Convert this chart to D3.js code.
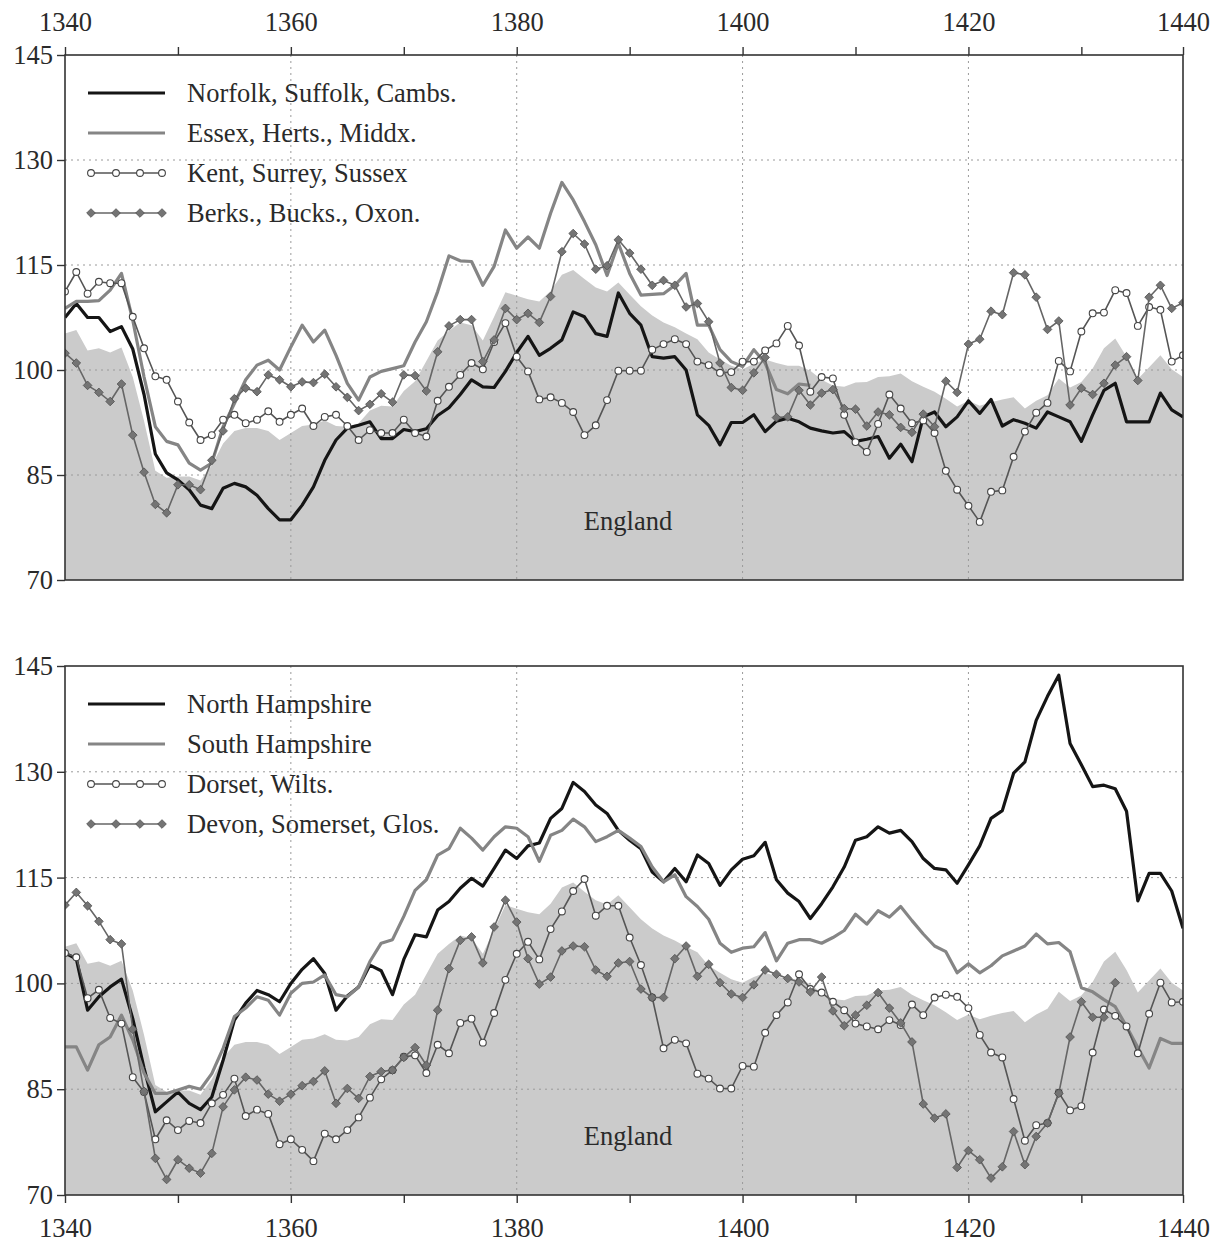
<!DOCTYPE html>
<html><head><meta charset="utf-8">
<script src="https://cdn.jsdelivr.net/npm/d3@7/dist/d3.min.js"></script>
<style>
html,body{margin:0;padding:0;background:#fff;}
svg{display:block;}
text{font-family:"Liberation Serif","Times New Roman",serif;fill:#2a2a2a;}
</style></head>
<body>
<svg id="chart" width="1215" height="1248"></svg>
<script>
// ---------- data (annual, starting 1340) ----------
const startYear = 1340;
const xTicks = [1340, 1350, 1360, 1370, 1380, 1390, 1400, 1410, 1420, 1430, 1440];
const xTickLabels = [1340, 1360, 1380, 1400, 1420, 1440];
const yTicks = [70, 85, 100, 115, 130, 145];
const gridX = [1360, 1380, 1400, 1420];
const gridY = [85, 100, 115, 130];

const england = [105.2,105.7,102.8,103.1,102.5,103.2,99.0,92.7,85.6,84.6,84.8,84.8,84.2,86.4,89.5,91.3,91.7,91.7,91.3,90.0,
  91.0,92.0,92.2,92.8,92.0,91.9,92.4,94.2,94.9,94.8,97.0,98.4,101.3,104.2,105.6,106.8,106.4,104.2,107.6,111.1,
  110.6,110.1,109.8,111.3,113.6,114.3,113.0,111.8,111.2,112.5,110.8,109.1,107.8,106.8,106.1,105.2,104.4,102.5,101.5,100.6,
  100.1,100.9,101.5,101.0,100.6,100.6,99.9,98.6,97.8,97.6,98.2,98.3,99.0,99.1,99.5,98.4,97.6,96.9,95.9,94.8,
  95.6,94.9,95.4,95.8,96.1,94.5,95.6,96.4,98.8,97.5,98.3,100.2,103.1,104.5,101.9,98.7,100.4,102.1,100.1,99.0];

// top panel
const norfolk = [107.5,109.5,107.5,107.5,105.5,106.2,103.0,96.5,88.0,85.3,84.3,82.9,80.7,80.2,83.1,83.8,83.3,82.1,80.2,78.6,
  78.6,80.7,83.3,87.1,90.0,91.7,92.1,92.6,90.2,90.2,91.5,91.2,91.6,93.5,94.6,96.5,98.6,97.6,97.5,99.8,
  102.5,104.8,102.1,103.1,104.3,108.3,107.6,105.2,104.8,111.0,108.1,106.4,101.9,101.7,101.9,100.0,93.6,92.1,89.3,92.5,
  92.5,93.6,91.2,92.7,93.1,92.6,91.7,91.3,91.0,91.2,89.8,90.1,90.5,87.4,89.4,86.9,93.3,94.0,91.9,93.3,
  95.6,93.8,95.8,92.0,92.9,92.4,91.7,94.0,93.3,92.6,89.8,93.6,97.1,98.1,92.6,92.6,92.6,96.7,94.3,93.3];
const essex = [108.8,109.8,109.8,109.9,111.4,113.8,107.1,99.0,91.9,89.8,89.3,86.7,85.7,86.7,91.9,95.2,98.6,100.7,101.4,100.0,
  103.3,106.4,104.0,105.7,102.1,98.1,95.7,99.0,99.8,100.2,100.6,104.0,106.9,111.2,116.3,115.6,115.5,112.1,114.8,120.0,
  117.4,119.0,117.4,122.4,126.8,124.3,121.2,117.9,113.5,118.1,113.8,110.7,110.8,110.9,112.1,113.8,106.4,106.4,102.9,101.2,
  100.5,102.9,101.0,97.2,96.6,98.0,97.8];
const kent = [111.2,114.0,110.9,112.6,112.4,112.4,107.6,103.1,99.1,98.6,95.5,92.5,90.0,90.7,92.9,93.6,92.4,92.9,94.1,92.6,
  93.6,94.5,92.0,93.3,93.6,92.0,90.0,91.4,91.0,91.0,92.9,91.0,90.5,95.6,97.6,99.3,101.0,100.1,104.0,106.7,
  101.9,99.8,95.8,96.1,95.3,94.0,90.7,92.1,95.7,99.9,99.9,99.9,102.9,103.7,104.4,103.7,101.2,100.7,99.6,99.7,
  101.2,101.2,102.8,103.8,106.3,103.5,96.9,99.0,98.8,93.6,89.7,88.3,92.3,96.5,94.5,92.4,92.8,91.0,85.6,82.9,
  80.6,78.3,82.6,82.8,87.6,91.2,93.9,95.3,101.3,99.8,105.5,108.1,108.2,111.4,111.0,106.3,109.0,108.6,101.2,102.1];
const berks = [102.4,101.0,97.8,96.8,95.5,98.0,90.7,85.4,80.8,79.6,83.6,83.6,82.9,87.1,91.3,95.9,97.4,96.9,99.3,98.6,
  97.6,98.3,98.2,99.4,97.6,96.1,94.2,95.1,96.6,95.4,99.3,99.2,97.0,102.6,106.3,107.2,107.2,101.2,104.3,108.8,
  107.2,108.1,106.8,110.5,116.9,119.5,118.0,114.4,114.9,118.6,116.7,114.4,112.1,112.8,112.1,109.0,109.5,106.9,101.0,97.5,
  97.1,99.6,101.8,93.2,93.3,97.1,95.0,96.7,97.2,94.5,94.4,92.0,94.0,93.6,91.8,91.1,93.7,91.9,98.4,96.8,
  103.7,104.4,108.4,107.9,113.9,113.6,110.4,105.8,107.0,95.0,97.4,96.5,98.1,100.7,101.9,98.5,110.4,112.1,108.8,109.6];

// bottom panel
const northHants = [104.3,103.5,96.2,98.1,99.5,100.6,95.0,88.0,81.8,83.2,84.6,83.0,82.1,83.9,89.1,94.8,97.2,99.0,98.4,97.4,
  100.0,102.0,103.5,101.4,96.2,98.2,99.5,102.6,101.8,98.4,103.4,106.9,106.6,110.4,111.6,113.5,114.9,113.8,116.3,118.9,
  117.7,119.5,119.9,123.4,124.8,128.5,127.2,125.3,124.1,121.7,120.3,119.1,115.8,114.4,116.3,114.4,118.2,117.0,113.9,116.1,
  117.6,118.1,120.0,114.7,112.8,111.6,109.2,111.3,113.7,116.5,120.3,120.8,122.2,121.3,121.7,120.1,117.7,116.3,116.1,114.2,
  116.8,119.5,123.4,124.5,129.8,131.4,137.3,140.7,143.7,134.0,131.0,127.9,128.1,127.6,124.4,111.7,115.6,115.6,113.1,107.8];
const southHants = [91.0,91.0,87.7,91.3,92.4,95.5,92.0,87.3,84.4,84.4,84.9,85.4,85.0,87.2,90.8,95.3,96.5,98.1,97.6,95.5,
  98.6,100.0,100.2,101.2,98.4,98.1,99.5,103.1,105.7,106.2,109.5,113.2,114.7,118.2,119.1,122.0,120.6,118.9,120.8,122.2,
  122.0,120.8,117.3,121.0,121.7,123.3,122.2,120.1,120.8,121.7,120.6,119.4,116.5,114.4,115.4,112.3,110.9,109.1,105.7,104.4,
  105.0,105.2,107.2,103.2,105.7,106.2,106.2,105.7,106.5,107.5,109.8,108.4,110.3,109.4,110.9,108.9,107.0,105.3,104.5,101.5,
  102.8,101.5,102.5,103.9,104.6,105.3,107.0,105.6,105.8,104.5,99.4,98.8,97.7,96.7,93.9,90.9,88.0,92.2,91.5,91.5];
const dorset = [104.3,103.7,97.9,99.1,95.1,94.3,86.7,84.6,77.9,80.6,79.2,80.5,80.2,83.0,84.2,86.5,81.2,82.1,81.5,77.2,
  77.9,76.4,74.8,78.7,77.9,79.2,81.0,83.8,86.4,87.7,89.6,89.8,87.3,91.3,90.1,94.4,95.0,91.6,95.8,100.5,
  104.2,105.9,103.4,107.7,110.2,113.1,114.8,109.6,111.0,111.0,106.5,102.6,98.0,90.8,92.0,91.5,87.2,86.5,85.1,85.1,
  88.3,88.2,93.0,95.5,97.3,101.3,99.2,98.7,97.4,96.2,94.3,93.9,93.5,94.8,94.1,97.0,95.5,98.0,98.4,98.1,
  96.5,92.7,90.2,89.5,83.6,77.7,79.9,80.2,84.5,82.0,82.6,90.2,96.3,95.4,93.9,90.1,95.7,100.1,97.3,97.4];
const devon = [111.1,112.9,111.0,108.8,106.2,105.6,93.5,84.7,75.2,72.2,75.0,73.8,73.1,75.9,82.5,84.9,86.7,86.3,84.3,83.3,
  84.3,85.5,86.1,87.6,83.0,85.1,83.7,86.8,87.5,87.7,89.5,90.9,88.4,96.2,102.1,106.1,106.6,102.9,108.0,111.8,
  108.7,103.5,99.9,100.9,104.6,105.3,105.2,101.9,101.0,102.9,103.1,99.2,98.0,98.0,103.5,105.3,101.0,102.7,100.1,98.5,
  98.0,99.8,101.9,101.3,100.7,100.2,98.8,100.9,96.1,94.0,95.5,96.9,98.7,96.5,94.4,91.7,82.9,80.9,81.5,73.9,
  76.3,75.0,72.4,74.0,79.0,74.3,78.3,80.2,84.4,92.4,97.4,95.2,95.2,100.1];

const topNames = ["Norfolk, Suffolk, Cambs.", "Essex, Herts., Middx.", "Kent, Surrey, Sussex", "Berks., Bucks., Oxon."];
const bottomNames = ["North Hampshire", "South Hampshire", "Dorset, Wilts.", "Devon, Somerset, Glos."];
const areaLabel = "England";

// ---------- drawing ----------
const svg = d3.select("#chart");
const X0 = 65, X1 = 1183;
const FS = 26.5;
const x = d3.scaleLinear().domain([1340, 1439]).range([X0, X1]).clamp(true);

const styles = [
  {stroke: "#151515", width: 3.2, marker: null},
  {stroke: "#858585", width: 3.2, marker: null},
  {stroke: "#555", width: 1.6, marker: "circle"},
  {stroke: "#666", width: 1.6, marker: "diamond"}
];

function toPts(arr) { return arr.map((v, i) => ({year: startYear + i, v})); }

function panel(id, top, bottom, series, names, showTopAxis) {
  const y = d3.scaleLinear().domain([70, 145]).range([bottom, top]);
  const g = svg.append("g");
  const clipId = "clip" + id;
  g.append("clipPath").attr("id", clipId).append("rect")
    .attr("x", X0).attr("y", top).attr("width", X1 - X0).attr("height", bottom - top);

  const area = d3.area().x(d => x(d.year)).y0(bottom).y1(d => y(d.v));
  g.append("path").datum(toPts(england)).attr("d", area)
    .attr("fill", "#cbcbcb").attr("clip-path", `url(#${clipId})`);

  g.selectAll(".gx").data(gridX).join("line")
    .attr("x1", d => x(d)).attr("x2", d => x(d)).attr("y1", top).attr("y2", bottom)
    .attr("stroke", "#9a9a9a").attr("stroke-width", 1).attr("stroke-dasharray", "2,4");
  g.selectAll(".gy").data(gridY).join("line")
    .attr("x1", X0).attr("x2", X1).attr("y1", d => y(d)).attr("y2", d => y(d))
    .attr("stroke", "#9a9a9a").attr("stroke-width", 1).attr("stroke-dasharray", "2,4");

  g.append("text").attr("x", 628).attr("y", bottom - 50).attr("text-anchor", "middle")
    .attr("font-size", FS).text(areaLabel);

  const line = d3.line().x(d => x(d.year)).y(d => y(d.v));
  const lg = g.append("g").attr("clip-path", `url(#${clipId})`);
  series.forEach((s, i) => {
    const st = styles[i];
    const pts = toPts(s);
    lg.append("path").datum(pts).attr("d", line).attr("fill", "none")
      .attr("stroke", st.stroke).attr("stroke-width", st.width).attr("stroke-linejoin", "round");
    if (st.marker === "circle") {
      lg.selectAll(null).data(pts).join("circle")
        .attr("cx", d => x(d.year)).attr("cy", d => y(d.v)).attr("r", 3.4)
        .attr("fill", "#fff").attr("stroke", "#444").attr("stroke-width", 1.1);
    } else if (st.marker === "diamond") {
      lg.selectAll(null).data(pts).join("path")
        .attr("d", d3.symbol(d3.symbolDiamond2, 48))
        .attr("transform", d => `translate(${x(d.year)},${y(d.v)})`)
        .attr("fill", "#747474").attr("stroke", "#505050").attr("stroke-width", 0.8);
    }
  });

  const lgX0 = 88, lgX1 = 165, textX = 187;
  names.forEach((n, i) => {
    const st = styles[i];
    const ly = top + 38 + i * 40;
    g.append("line").attr("x1", lgX0).attr("x2", lgX1).attr("y1", ly).attr("y2", ly)
      .attr("stroke", st.stroke).attr("stroke-width", st.width);
    const mx = [lgX0 + 3, lgX0 + 28, lgX0 + 52, lgX1 - 3];
    if (st.marker === "circle") {
      mx.forEach(m => g.append("circle").attr("cx", m).attr("cy", ly).attr("r", 3.4)
        .attr("fill", "#fff").attr("stroke", "#444").attr("stroke-width", 1.1));
    } else if (st.marker === "diamond") {
      mx.forEach(m => g.append("path").attr("d", d3.symbol(d3.symbolDiamond2, 48))
        .attr("transform", `translate(${m},${ly})`).attr("fill", "#747474").attr("stroke", "#505050").attr("stroke-width", 0.8));
    }
    g.append("text").attr("x", textX).attr("y", ly + 9).attr("font-size", FS).text(n);
  });

  g.append("rect").attr("x", X0).attr("y", top).attr("width", X1 - X0).attr("height", bottom - top)
    .attr("fill", "none").attr("stroke", "#333").attr("stroke-width", 1.6);

  const yAxis = d3.axisLeft(y).tickValues(yTicks).tickSize(8).tickPadding(4).tickFormat(d3.format("d"));
  const ya = g.append("g").attr("transform", `translate(${X0},0)`).call(yAxis);
  ya.select(".domain").remove();
  ya.selectAll("line").attr("stroke", "#333").attr("stroke-width", 1.4);
  ya.selectAll("text").attr("font-size", FS).attr("font-family", "Liberation Serif").attr("fill", "#2a2a2a");

  const fmt = d => xTickLabels.includes(d) ? String(d) : "";
  const xa = showTopAxis
    ? g.append("g").attr("transform", `translate(0,${top})`)
        .call(d3.axisTop(x).tickValues(xTicks).tickSize(8).tickPadding(16).tickFormat(fmt))
    : g.append("g").attr("transform", `translate(0,${bottom})`)
        .call(d3.axisBottom(x).tickValues(xTicks).tickSize(8).tickPadding(15).tickFormat(fmt));
  xa.select(".domain").remove();
  xa.selectAll("line").attr("stroke", "#333").attr("stroke-width", 1.4);
  xa.selectAll("text").attr("font-size", FS).attr("font-family", "Liberation Serif").attr("fill", "#2a2a2a");
}

panel("A", 55, 580, [norfolk, essex, kent, berks], topNames, true);
panel("B", 666, 1195, [northHants, southHants, dorset, devon], bottomNames, false);
</script>
</body></html>
